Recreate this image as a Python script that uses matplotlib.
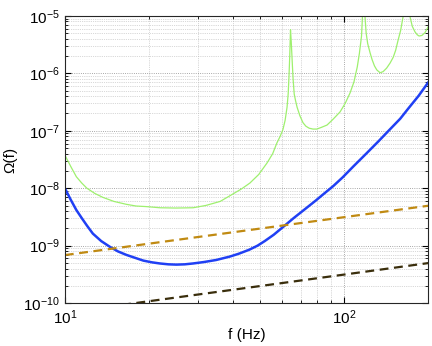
import matplotlib
matplotlib.use("Agg")
import matplotlib.pyplot as plt
import matplotlib.ticker as mticker
import numpy as np

plt.rcParams['font.family'] = ['Liberation Sans', 'DejaVu Sans']
plt.rcParams['mathtext.fontset'] = 'custom'
plt.rcParams['mathtext.rm'] = 'Liberation Sans'
plt.rcParams['mathtext.it'] = 'Liberation Sans:italic'
plt.rcParams['mathtext.bf'] = 'Liberation Sans:bold'

# Green curve (thin): frequency (Hz) and log10 Omega
green_f = [10, 10.5, 11.0, 11.5, 12.0, 12.8, 13.7, 15.0, 16.6, 18.0, 19.6, 21.9,
           25.0, 28.8, 32, 36, 40, 43, 46, 49.5, 53, 55.5, 57.5, 59, 60.4, 61.5,
           62.5, 63.1, 63.5, 63.9, 64.3, 64.7, 65.0, 65.3, 65.7, 66.3, 67.0, 67.9,
           69.5, 71.3, 73, 75, 77.4, 79.9, 83, 86.9, 91.3, 96.8, 101, 105.1, 108.5,
           111.5, 113.5, 115.5, 117.5, 119, 120, 121.5, 123.9, 126, 128.5, 131,
           134.6, 138, 142, 146.2, 150, 153, 156.2, 159.5, 162.6, 166.5, 172.4,
           175.5, 179.6, 183, 185.7, 190, 195, 200]
green_log = [-7.42, -7.62, -7.80, -7.91, -8.00, -8.09, -8.16, -8.23, -8.28, -8.31,
             -8.32, -8.34, -8.345, -8.34, -8.30, -8.23, -8.10, -8.01, -7.91, -7.76,
             -7.56, -7.40, -7.21, -7.10, -6.98, -6.82, -6.59, -6.35, -6.06, -5.70,
             -5.24, -5.45, -5.65, -5.85, -6.10, -6.36, -6.47, -6.59, -6.74, -6.86,
             -6.92, -6.955, -6.97, -6.97, -6.94, -6.90, -6.80, -6.67, -6.52, -6.34,
             -6.15, -5.89, -5.65, -5.35, -4.6, -5.05, -5.30, -5.48, -5.64, -5.76,
             -5.87, -5.94, -5.99, -5.97, -5.91, -5.82, -5.72, -5.60, -5.42, -5.25,
             -5.02, -4.5, -5.02, -5.18, -5.28, -5.33, -5.35, -5.34, -5.29, -5.19]

# Blue curve (thick)
blue_f = [10, 10.5, 11.0, 11.5, 12.0, 12.6, 13.5, 14.5, 15.5, 16.6, 17.8, 19.1,
          20.5, 21.9, 23.5, 25.1, 26.9, 28.8, 31.5, 34.8, 39, 42, 45.8, 49, 52,
          56, 60.3, 66, 73.5, 79.4, 85, 91.6, 98.9, 108, 120.5, 133, 145, 158.9,
          170, 185, 200]
blue_log = [-8.00, -8.20, -8.38, -8.52, -8.65, -8.79, -8.92, -9.02, -9.10, -9.16,
            -9.21, -9.26, -9.29, -9.31, -9.325, -9.33, -9.325, -9.31, -9.285,
            -9.25, -9.19, -9.14, -9.07, -9.00, -8.92, -8.81, -8.68, -8.52, -8.34,
            -8.21, -8.09, -7.96, -7.81, -7.62, -7.39, -7.18, -6.99, -6.79, -6.61,
            -6.39, -6.16]

# Dashed power-law lines (endpoints)
line_f = [10, 200]
orange_vals = [6.85e-10, 4.95e-9]
dark_vals = [6.8e-11, 4.97e-10]

fig = plt.figure(figsize=(4.32, 3.46), dpi=100)
ax = fig.add_axes([0.150, 0.124, 0.841, 0.830])

ax.plot(green_f, 10.0 ** np.array(green_log), color='#9EF06E', lw=0.9)
ax.plot(blue_f, 10.0 ** np.array(blue_log), color='#2040F4', lw=1.8)
ax.plot(line_f, orange_vals, color='#C08A12', lw=1.6, ls=(0, (4, 2.5)))
ax.plot(line_f, dark_vals, color='#3A2E0C', lw=1.6, ls=(0, (4, 2.5)))

ax.set_xscale('log')
ax.set_yscale('log')
ax.set_xlim(10, 200)
ax.set_ylim(1e-10, 1e-5)
ax.xaxis.set_minor_formatter(mticker.NullFormatter())
ax.yaxis.set_minor_formatter(mticker.NullFormatter())

ax.grid(True, which='major', ls=':', color='0.55', lw=0.6)
ax.grid(True, which='minor', ls=':', color='0.7', lw=0.5)
ax.tick_params(which='both', direction='in', top=True, right=True, labelsize=11)
ax.tick_params(which='major', length=4)
ax.tick_params(which='minor', length=2.5)
for s in ax.spines.values():
    s.set_linewidth(0.8)
    s.set_color('0.15')

ax.set_xlabel('f (Hz)', fontsize=11, labelpad=1)
ax.set_ylabel('Ω(f)', fontsize=11)

fig.savefig('out.png', dpi=100)
